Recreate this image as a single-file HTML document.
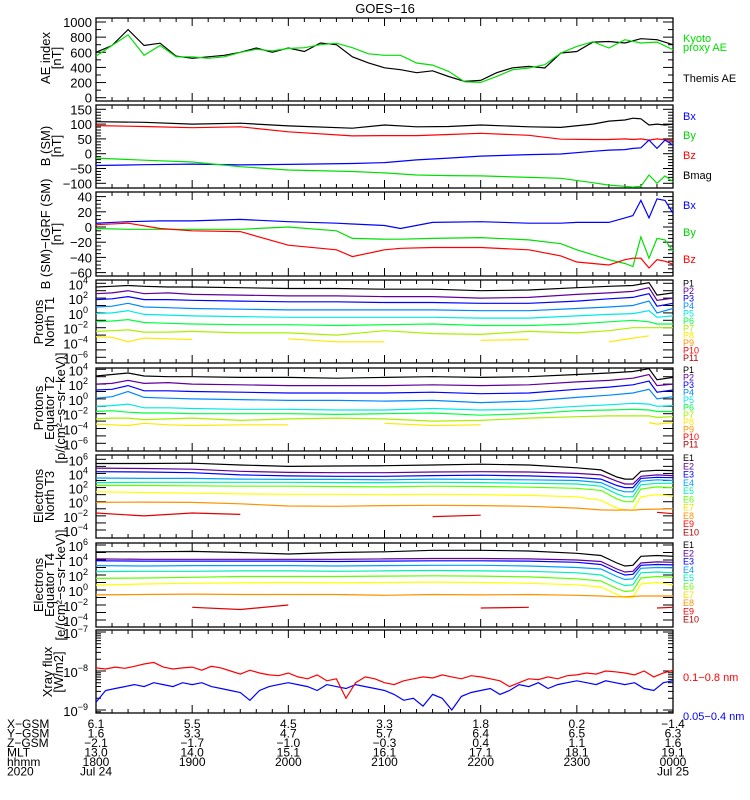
<!DOCTYPE html>
<html><head><meta charset="utf-8"><title>GOES-16</title>
<style>
html,body{margin:0;padding:0;background:#fff;}
svg{display:block;font-family:"Liberation Sans",sans-serif;}
</style></head>
<body>
<svg id="chart" width="750" height="800" viewBox="0 0 750 800" xmlns="http://www.w3.org/2000/svg">
<text x="385" y="13" text-anchor="middle" font-size="13">GOES−16</text>
</svg>
<script>
// ---------- data ----------
const tAE=[0,10,20,30,40,50,60,70,80,90,100,110,120,130,140,150,160,170,180,190,200,210,220,230,240,250,260,270,280,290,300,310,320,330,340,350,360];
const themisAE=[600,690,900,690,720,550,520,540,560,600,656,600,656,610,722,700,540,460,395,370,330,356,280,215,228,330,395,413,392,590,610,735,743,722,780,766,700];
const kyotoAE=[550,690,830,560,690,540,540,520,540,598,640,620,650,660,700,720,660,580,560,560,458,430,347,210,202,281,370,392,436,590,678,740,656,766,722,735,634];
const tB=[0,30,60,90,120,160,180,200,220,240,270,290,310,320,330,335,340,345,350,355,360];
const bBx=[-40,-37,-35,-38,-36,-33,-30,-21,-15,-8,-3,-1,8,12,14,18,20,46,18,46,29];
const bBy=[-15,-22,-28,-44,-55,-60,-65,-72,-74,-75,-80,-83,-98,-106,-110,-113,-110,-72,-100,-75,-95];
const bBz=[95,92,88,91,74,60,61,61,65,69,62,49,48,48,50,48,50,46,50,47,45];
const bBm=[108,106,100,103,94,86,97,91,92,97,91,89,100,110,114,120,118,97,100,97,100];
const tI=[0,20,40,60,90,120,150,160,180,190,210,240,270,290,300,320,330,335,340,345,350,355,360];
const iBx=[5,7,8,8,10,7,5,4,2,-2,6,7,5,5,6,6,12,15,35,12,37,35,18];
const iBy=[-2,-3,-3,-3,-3,0,-5,-15,-16,-16,-15,-14,-17,-22,-30,-43,-48,-52,-13,-41,-15,-17,-32];
const iBz=[3,5,-2,-5,-6,-24,-30,-39,-30,-28,-27,-27,-30,-38,-46,-50,-43,-41,-41,-54,-43,-45,-49];
const tP=[0,10,20,30,45,60,90,120,150,180,210,240,270,300,320,335,345,350,360];
const pN1=[3.5,3.6,3.7,3.6,3.5,3.5,3.4,3.3,3.3,3.2,3.2,3.0,3.1,3.4,3.6,3.7,4.1,2.4,2.7];
const pN2=[2.6,2.7,3.0,2.6,2.7,2.5,2.4,2.3,2.3,2.2,2.2,2.0,2.1,2.5,2.7,2.9,3.4,1.7,2.0];
const pN3=[1.8,1.9,2.2,1.8,1.8,1.7,1.6,1.5,1.5,1.4,1.4,1.3,1.3,1.6,1.9,2.1,2.6,0.9,1.3];
const pN4=[0.8,0.9,1.3,0.8,0.7,0.6,0.5,0.4,0.4,0.4,0.4,0.3,0.3,0.6,0.8,1.0,1.6,0.0,0.6];
const pN5=[-0.1,0,0.3,-0.2,-0.3,-0.4,-0.5,-0.6,-0.6,-0.6,-0.6,-0.7,-0.7,-0.4,-0.2,-0.1,0.3,-0.6,-0.4];
const pN6=[-1.2,-1.1,-0.9,-1.3,-1.4,-1.5,-1.6,-1.6,-1.7,-1.6,-1.5,-1.7,-1.7,-1.5,-1.2,-1.0,-1.2,-1.5,-1.5];
const pN7=[-2.5,-2.4,-2.3,-2.6,-2.6,-2.5,-2.7,-2.7,-3.0,-2.4,-2.8,-2.9,-2.5,-2.7,-2.4,-2.0,-2.0,-2.0,-2.0];
const pN8=[-3.2,-3.3,-3.9,-3.4,-3.5,-3.6,null,-3.5,-3.9,-3.9,null,-3.7,-3.6,null,-3.9,-3.4,-3.1,null,null];
const pE1=[3.1,3.3,3.5,3.1,3.0,3.0,2.9,2.9,2.8,2.9,3.0,2.9,3.0,3.3,3.5,3.7,4.1,2.6,2.9];
const pE2=[2.0,2.1,2.5,2.1,2.2,2.0,1.9,1.8,1.8,1.8,1.9,1.8,1.9,2.3,2.5,2.8,3.3,1.8,2.0];
const pE3=[1.2,1.3,1.8,1.1,1.1,1.0,0.9,0.8,0.8,0.8,0.9,0.7,0.8,1.3,1.6,1.9,2.4,0.9,1.2];
const pE4=[0.1,0.3,1.0,0.2,0.1,0.0,-0.1,-0.2,-0.2,-0.3,-0.2,-0.5,-0.3,0.2,0.5,0.8,1.3,0.0,0.3];
const pE5=[-1.0,-0.9,-0.7,-1.2,-1.2,-1.3,-1.4,-1.4,-1.5,-1.5,-1.3,-1.5,-1.4,-1.0,-0.8,-0.6,-0.7,-1.0,-0.9];
const pE6=[-1.7,-1.6,-1.8,-1.9,-1.9,-2.0,-2.0,-2.0,-2.1,-2.0,-1.9,-2.2,-2.0,-1.6,-1.5,-1.4,-1.5,-1.7,-1.7];
const pE7=[-2.7,-2.6,-2.6,-2.8,-2.7,-2.6,-2.9,-2.7,-2.6,-2.7,-3.0,-2.9,-2.6,-2.4,-2.3,-2.3,-2.3,-2.5,-2.4];
const pE8=[-3.4,-3.5,-3.6,-3.3,-3.5,-3.6,-3.5,-3.5,null,-3.3,-3.6,-3.5,null,null,null,null,-3.2,-3.4,-3.2];
const tE=[0,30,60,90,120,150,180,210,240,270,300,315,325,330,335,340,350,360];
const eN1=[5.4,5.4,5.45,5.2,5.0,5.05,5.1,5.2,5.3,5.2,4.8,4.5,3.5,3.2,3.2,4.3,4.45,4.4];
const eN2=[4.75,4.7,4.6,4.3,4.15,4.1,4.1,4.2,4.25,4.2,4.0,3.8,2.9,2.5,2.5,3.6,3.8,3.7];
const eN3=[4.25,4.2,4.1,3.8,3.65,3.6,3.6,3.7,3.75,3.65,3.45,3.2,2.3,2.0,2.0,3.3,3.45,3.4];
const eN4=[3.35,3.3,3.3,3.2,3.15,3.15,3.1,3.2,3.15,3.1,3.0,2.7,1.7,1.4,1.4,2.9,3.1,3.0];
const eN5=[2.7,2.75,2.75,2.75,2.75,2.7,2.7,2.75,2.7,2.6,2.5,2.2,1.1,0.7,0.7,2.4,2.6,2.6];
const eN6=[2.3,2.3,2.25,2.2,2.2,2.15,2.1,2.2,2.15,2.05,1.9,1.6,0.4,0.0,0.0,1.8,2.1,2.0];
const eN7=[1.4,1.3,1.2,1.1,1.05,1.05,1.0,1.05,1.0,0.9,0.7,0.2,-0.9,-1.2,-1.15,0.7,1.0,0.8];
const eN8=[-0.1,-0.05,-0.1,-0.3,-0.6,-0.65,-0.55,-0.5,-0.55,-0.65,-0.9,-1.15,-1.2,-1.15,-1.2,-1.1,-1.05,-1.0];
const eN9=[-1.6,-2.0,-1.6,-1.8,null,-2.3,null,-2.1,-1.9,null,null,null,null,null,null,null,-1.5,-1.7];
const eE1=[5.1,5.1,5.15,5.0,4.8,5.0,5.1,5.3,5.3,5.2,4.9,4.6,3.6,3.2,3.3,4.5,4.6,4.5];
const eE2=[4.15,4.1,4.1,4.1,4.1,4.1,4.15,4.2,4.2,4.15,4.0,3.8,2.8,2.4,2.5,3.6,3.75,3.7];
const eE3=[3.9,3.85,3.85,3.85,3.85,3.8,3.85,3.9,3.9,3.85,3.7,3.4,2.4,2.0,2.1,3.3,3.4,3.35];
const eE4=[3.25,3.2,3.25,3.25,3.25,3.2,3.25,3.3,3.3,3.2,3.0,2.8,1.8,1.4,1.5,2.9,3.0,2.95];
const eE5=[2.45,2.5,2.5,2.55,2.55,2.5,2.55,2.6,2.55,2.5,2.3,2.0,1.0,0.6,0.7,2.3,2.4,2.3];
const eE6=[1.55,1.6,1.7,1.8,1.8,1.8,1.85,1.9,1.85,1.75,1.5,1.2,0.2,-0.2,-0.1,1.6,1.8,1.7];
const eE7=[0.65,0.8,0.9,0.95,1.0,0.95,1.0,1.05,1.0,0.9,0.7,0.4,-0.6,-1.0,-1.0,0.8,1.0,0.7];
const eE8=[-0.65,-0.6,-0.55,-0.6,-0.6,-0.6,-0.7,-0.6,-0.65,-0.6,-0.7,-0.8,-0.9,-0.9,-0.85,-0.8,-0.8,-0.8];
const eE9=[-2.2,null,-2.3,-2.6,-2.0,null,-2.5,null,-2.4,-2.3,null,-2.2,null,null,null,null,-2.4,-2.3];
const xrayLong=[-7.92,-7.95,-7.9,-7.93,-7.88,-7.82,-7.78,-7.9,-7.95,-7.92,-7.9,-7.98,-7.88,-7.92,-8.0,-8.08,-7.98,-8.05,-8.1,-8.12,-8.05,-8.15,-8.2,-8.1,-8.25,-8.2,-8.7,-8.3,-8.15,-8.2,-8.3,-8.35,-8.25,-8.2,-8.15,-8.18,-8.1,-8.15,-8.2,-8.12,-8.15,-8.2,-8.25,-8.4,-8.3,-8.2,-8.22,-8.15,-8.2,-8.12,-8.1,-8.05,-8.08,-8.0,-8.02,-8.05,-8.1,-8.0,-8.15,-8.05,-7.98];
const xrayShort=[-8.8,-8.5,-8.45,-8.4,-8.35,-8.4,-8.3,-8.35,-8.4,-8.3,-8.35,-8.3,-8.4,-8.45,-8.5,-8.55,-8.75,-8.5,-8.4,-8.35,-8.3,-8.35,-8.4,-8.5,-8.35,-8.4,-8.45,-8.35,-8.4,-8.45,-8.5,-8.6,-8.75,-8.7,-8.9,-8.6,-8.7,-9.0,-8.65,-8.55,-8.5,-8.45,-8.6,-8.5,-8.35,-8.4,-8.3,-8.45,-8.35,-8.3,-8.25,-8.3,-8.35,-8.25,-8.3,-8.35,-8.3,-8.45,-8.5,-8.3,-8.25];
const hourLabels=["1800","1900","2000","2100","2200","2300","0000"];
const xgsm=["6.1","5.5","4.5","3.3","1.8","0.2","−1.4"];
const ygsm=["1.6","3.3","4.7","5.7","6.4","6.5","6.3"];
const zgsm=["−2.1","−1.7","−1.0","−0.3","0.4","1.1","1.6"];
const mlt=["13.0","14.0","15.1","16.1","17.1","18.1","19.1"];

// ---------- drawing ----------
const svg=document.getElementById('chart');
const NS='http://www.w3.org/2000/svg';
const X0=96,X1=673,TMAX=360;
const xs=t=>X0+(X1-X0)*t/TMAX;
function mk(tag,attrs){const e=document.createElementNS(NS,tag);for(const k in attrs)e.setAttribute(k,attrs[k]);svg.appendChild(e);return e;}
function txt(x,y,s,size,fill,anchor){const e=mk('text',{x:x,y:y,'font-size':size,fill:fill||'#000','text-anchor':anchor||'start'});e.textContent=s;return e;}
function series(ts,vals,ys,color,name){
  let d='',pen=false;
  for(let i=0;i<vals.length;i++){
    if(vals[i]===null||vals[i]===undefined){pen=false;continue;}
    d+=(pen?'L':'M')+xs(ts[i]).toFixed(1)+' '+ys(vals[i]).toFixed(1)+' ';pen=true;}
  const p=mk('path',{d:d,fill:'none',stroke:color,'stroke-width':1.2});
  
  
}
function logLabel(x,y,exp,name){
  const e=mk('text',{x:x,y:y,'font-size':13,'text-anchor':'end'});
  
  
  const a=document.createElementNS(NS,'tspan');a.textContent='10';e.appendChild(a);
  const b=document.createElementNS(NS,'tspan');b.setAttribute('dy','-6');b.setAttribute('font-size','9');b.textContent=String(exp).replace('-','−');e.appendChild(b);
}
function frame(top,bot,name){
  const r=mk('rect',{x:X0,y:top,width:X1-X0,height:bot-top,fill:'none',stroke:'#000','stroke-width':1.3});
  
  
  for(let t=0;t<=TMAX;t+=10){
    const L=(t%60===0)?8:4;const x=xs(t);
    mk('line',{x1:x,y1:bot,x2:x,y2:bot-L,stroke:'#000','stroke-width':1});
    mk('line',{x1:x,y1:top,x2:x,y2:top+L,stroke:'#000','stroke-width':1});
  }
}
function ytick(y,L){
  mk('line',{x1:X0,y1:y,x2:X0+L,y2:y,stroke:'#000','stroke-width':1});
  mk('line',{x1:X1,y1:y,x2:X1-L,y2:y,stroke:'#000','stroke-width':1});
}
function linAxis(top,bot,ys,vmin,vmax,major,minor,name){
  for(let v=vmin;v<=vmax+1e-9;v+=minor){const y=ys(v);if(y<top-0.5||y>bot+0.5)continue;ytick(y,(Math.abs(v/major-Math.round(v/major))<1e-6)?10:5);}
  for(let v=vmin;v<=vmax+1e-9;v+=major){const y=ys(v);if(y<top-2||y>bot+2)continue;
    const e=txt(92,y+5,String(v).replace('-','−'),13,'#000','end');
    
    }
}
function logAxis(top,bot,ys,emin,emax,labStep,name,minorTicks){
  for(let e=emin;e<=emax;e++){
    const y=ys(e);if(y>=top-0.5&&y<=bot+0.5)ytick(y,10);
    if(minorTicks){for(let m=2;m<10;m++){const ym=ys(e+Math.log10(m));if(ym>=top&&ym<=bot)ytick(ym,5);}}
  }
  for(let e=emax;e>=emin;e-=labStep){const y=ys(e);if(y<top-3||y>bot+3)continue;logLabel(88,y+6,e,name+'-tick-label');}
}
function ytitle(xs0,cy,lines,name){
  lines.forEach((s,i)=>{
    const x=xs0[i];
    const e=mk('text',{x:x,y:cy,'font-size':13,'text-anchor':'middle',transform:'rotate(-90 '+x+' '+cy+')'});
    e.textContent=s;
    
    
  });
}
function rlabel(y,s,color,size,name){
  const e=txt(683,y,s,size,color,'start');
  
  
}

// Panel 1: AE
const y1=v=>97.7-v*0.0757;
frame(18,101,'ae-panel');
linAxis(18,101,y1,0,1000,200,100,'ae');
series(tAE,themisAE,y1,'#000','themis-ae-line');
series(tAE,kyotoAE,y1,'#00e000','kyoto-ae-line');
ytitle([50,61],58,['AE index','[nT]'],'ae-y-title');
rlabel(42,'Kyoto','#00e000',11,'legend-kyoto');
rlabel(51,'proxy AE','#00e000',11,'legend-kyoto-proxy');
rlabel(82,'Themis AE','#000',11,'legend-themis');

// Panel 2: B SM
const y2=v=>153.7-v*0.296;
frame(105,188,'b-sm-panel');
linAxis(105,188,y2,-100,150,50,10,'b-sm');
series(tB,bBm,y2,'#000','bmag-line');
series(tB,bBz,y2,'#ff0000','bz-line');
series(tB,bBx,y2,'#0000ff','bx-line');
series(tB,bBy,y2,'#00e000','by-line');
ytitle([50,61],146,['B (SM)','[nT]'],'b-sm-y-title');
rlabel(120,'Bx','#0000ff',11,'legend-bx');
rlabel(139,'By','#00d000',11,'legend-by');
rlabel(159,'Bz','#ff0000',11,'legend-bz');
rlabel(179,'Bmag','#000',11,'legend-bmag');

// Panel 3: B - IGRF
const y3=v=>227-v*0.76;
frame(192,276,'b-igrf-panel');
linAxis(192,276,y3,-60,40,20,5,'b-igrf');
series(tI,iBx,y3,'#0000ff','igrf-bx-line');
series(tI,iBy,y3,'#00e000','igrf-by-line');
series(tI,iBz,y3,'#ff0000','igrf-bz-line');
ytitle([50,61],234,['B (SM)−IGRF (SM)','[nT]'],'b-igrf-y-title');
rlabel(209,'Bx','#0000ff',11,'legend-igrf-bx');
rlabel(236,'By','#00d000',11,'legend-igrf-by');
rlabel(263,'Bz','#ff0000',11,'legend-igrf-bz');

const pColors=['#000','#60009a','#0000ff','#0088ff','#00e8e8','#00ff40','#a8f000','#ffe800','#ff9000','#ff0000','#b00000'];
const eColors=['#000','#60009a','#0000ff','#00a0ff','#00f0b0','#60ff00','#ffff00','#ff9000','#ff0000','#b00000'];

// Panel 4: Protons North T1
const y4=L=>283.3+(4-L)*7.4;
frame(280,363,'protons-north-panel');
logAxis(280,363,y4,-6,4,2,'protons-north',false);
[pN1,pN2,pN3,pN4,pN5,pN6,pN7,pN8].forEach((s,i)=>series(tP,s,y4,pColors[i],'protons-north-p'+(i+1)));
ytitle([43,54],322,['Protons','North T1'],'protons-north-y-title');
for(let i=0;i<11;i++)rlabel(286.5+i*7.46,'P'+(i+1),pColors[i],9,'legend-north-p'+(i+1));

// Panel 5: Protons Equator T2
const y5=L=>369.3+(4-L)*7.4;
frame(368,451,'protons-equator-panel');
logAxis(368,451,y5,-6,4,2,'protons-equator',false);
[pE1,pE2,pE3,pE4,pE5,pE6,pE7,pE8].forEach((s,i)=>series(tP,s,y5,pColors[i],'protons-equator-p'+(i+1)));
ytitle([43,54,65],408,['Protons','Equator T2','[p/(cm²−s−sr−keV)]'],'protons-equator-y-title');
for(let i=0;i<11;i++)rlabel(373+i*7.46,'P'+(i+1),pColors[i],9,'legend-equator-p'+(i+1));

// Panel 6: Electrons North T3
const y6=L=>459.3+(6-L)*7.07;
frame(455,538,'electrons-north-panel');
logAxis(455,538,y6,-4,6,2,'electrons-north',false);
[eN1,eN2,eN3,eN4,eN5,eN6,eN7,eN8].forEach((s,i)=>series(tE,s,y6,eColors[i],'electrons-north-e'+(i+1)));
series(tE,eN9,y6,'#e00000','electrons-north-e9');
ytitle([43,54],496,['Electrons','North T3'],'electrons-north-y-title');
for(let i=0;i<10;i++)rlabel(461+i*8.27,'E'+(i+1),eColors[i]==='#ffff00'?'#f0e000':eColors[i],9,'legend-north-e'+(i+1));

// Panel 7: Electrons Equator T4
const y7=L=>545+(6-L)*7.5;
frame(543,627,'electrons-equator-panel');
logAxis(543,627,y7,-4,6,2,'electrons-equator',false);
[eE1,eE2,eE3,eE4,eE5,eE6,eE7,eE8].forEach((s,i)=>series(tE,s,y7,eColors[i],'electrons-equator-e'+(i+1)));
series(tE,eE9,y7,'#e00000','electrons-equator-e9');
ytitle([43,54,65],585,['Electrons','Equator T4','[e/(cm²−s−sr−keV)]'],'electrons-equator-y-title');
for(let i=0;i<10;i++)rlabel(548+i*8.3,'E'+(i+1),eColors[i]==='#ffff00'?'#f0e000':eColors[i],9,'legend-equator-e'+(i+1));

// Panel 8: X-ray
const y8=L=>632+(-7-L)*39;
frame(630,713,'xray-panel');
logAxis(630,713,y8,-10,-7,1,'xray',true);
const tX=xrayLong.map((v,i)=>i*TMAX/(xrayLong.length-1));
const tXs=xrayShort.map((v,i)=>i*TMAX/(xrayShort.length-1));
series(tXs,xrayShort,y8,'#0000ff','xray-short-line');
series(tX,xrayLong,y8,'#ff0000','xray-long-line');
ytitle([52,63],672,['Xray flux','[W/m2]'],'xray-y-title');
rlabel(681,'0.1−0.8 nm','#ff0000',11,'legend-xray-long');
rlabel(720,'0.05−0.4 nm','#0000ff',11,'legend-xray-short');

// Bottom ephemeris
const rows=[['X−GSM',xgsm],['Y−GSM',ygsm],['Z−GSM',zgsm],['MLT',mlt],['hhmm',hourLabels]];
rows.forEach((r,ri)=>{
  const y=728+ri*9.5;
  const l=txt(7,y,r[0],12,'#000','start');
  
  
  r[1].forEach((v,i)=>{
    const e=txt(xs(i*60),y,v,12,'#000','middle');
    
    
  });
});
{const e=txt(7,775.5,'2020',12,'#000','start');}
{const e=txt(xs(0),775.5,'Jul 24',12,'#000','middle');}
{const e=txt(xs(360),775.5,'Jul 25',12,'#000','middle');}
</script>
</body></html>
